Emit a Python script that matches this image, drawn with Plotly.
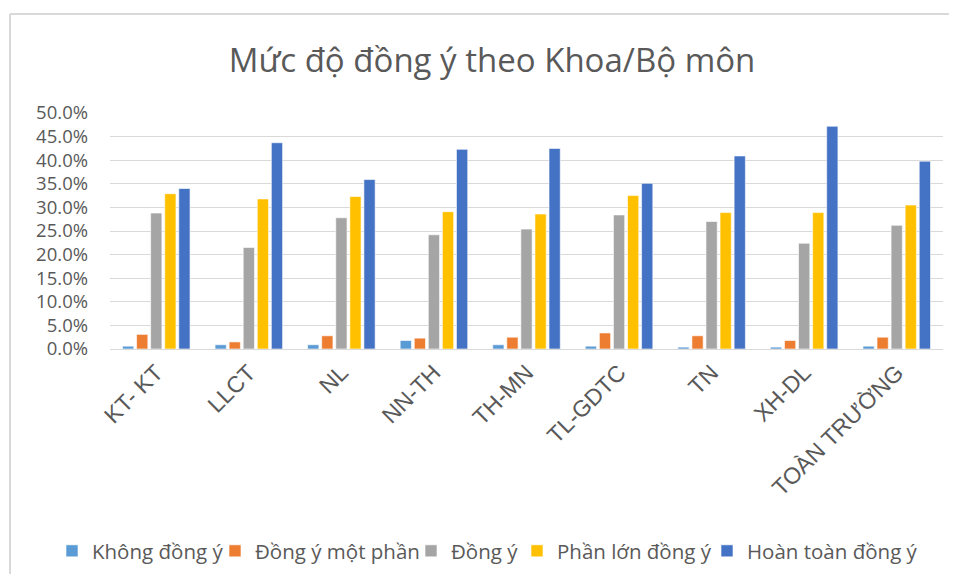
import plotly.graph_objects as go

categories = ["KT- KT", "LLCT", "NL", "NN-TH", "TH-MN", "TL-GDTC", "TN", "XH-DL", "TOÀN TRƯỜNG"]
khong_dong_y = [0.006, 0.009, 0.009, 0.018, 0.009, 0.006, 0.004, 0.004, 0.006]
dong_y_mot_phan = [0.031, 0.015, 0.028, 0.023, 0.025, 0.034, 0.028, 0.018, 0.025]
dong_y = [0.288, 0.215, 0.278, 0.242, 0.254, 0.284, 0.270, 0.224, 0.262]
phan_lon_dong_y = [0.329, 0.318, 0.323, 0.291, 0.286, 0.325, 0.289, 0.289, 0.305]
hoan_toan_dong_y = [0.340, 0.437, 0.359, 0.423, 0.425, 0.351, 0.409, 0.472, 0.398]

series = [
    ("Không đồng ý", khong_dong_y, "#5B9BD5"),
    ("Đồng ý một phần", dong_y_mot_phan, "#ED7D31"),
    ("Đồng ý", dong_y, "#A5A5A5"),
    ("Phần lớn đồng ý", phan_lon_dong_y, "#FFC000"),
    ("Hoàn toàn đồng ý", hoan_toan_dong_y, "#4472C4"),
]
yticks = [0.0, 0.05, 0.10, 0.15, 0.20, 0.25, 0.30, 0.35, 0.40, 0.45, 0.50]

# page has an 8px body margin: figure is placed at (8, 8)
OFF = 8
W, H = 941, 566
PL, PR, PT, PB = 110, 943, 113, 349
L, T = PL - OFF, PT - OFF
R = W - (PR - OFF)
B = H - (PB - OFF)
pw, ph = W - L - R, H - T - B

def px_x(x):
    return (x - OFF - L) / pw

def px_y(y):
    return (H - B - (y - OFF)) / ph

legend_text_starts = [93, 256, 452, 558, 748]
legend_names = ["legend", "legend2", "legend3", "legend4", "legend5"]

fig = go.Figure()
for (name, vals, color), lg in zip(series, legend_names):
    fig.add_trace(go.Bar(
        x=categories, y=vals, name=name, legend=lg, showlegend=True,
        marker=dict(color=color, line=dict(color="rgba(255,255,255,0.6)", width=1)),
    ))

legend_fmt = {}
for lg, xs in zip(legend_names, legend_text_starts):
    legend_fmt[lg] = dict(
        orientation="h", x=px_x(xs - 41), xanchor="left", y=px_y(551), yanchor="middle",
        font=dict(size=20.5, color="#595959", family="Open Sans, Arial, sans-serif"),
        bgcolor="rgba(0,0,0,0)", borderwidth=0, visible=True,
    )

fig.update_layout(
    width=W, height=H,
    showlegend=True,
    margin=dict(l=L, r=R, t=T, b=B, autoexpand=False),
    paper_bgcolor="white", plot_bgcolor="white",
    barmode="group", bargap=0.24, bargroupgap=0.2,
    font=dict(family="Open Sans, Arial, sans-serif", color="#595959"),
    title=dict(text="Mức độ đồng ý theo Khoa/Bộ môn", x=(492 - OFF) / W, xanchor="center",
               y=1 - (60 - OFF) / H, yanchor="middle",
               font=dict(size=33, color="#595959", family="Open Sans, Arial, sans-serif")),
    xaxis=dict(tickangle=-45, tickfont=dict(size=23, color="#595959", family="Liberation Sans, Arial, sans-serif"),
               showline=True, linecolor="#D9D9D9", linewidth=1, ticks="", showgrid=False),
    yaxis=dict(range=[0, 0.5], tickvals=yticks, tickformat=".1%", ticklabelstandoff=21,
               tickfont=dict(size=18.5, color="#595959", family="Open Sans, Arial, sans-serif"),
               showgrid=True, gridcolor="#D9D9D9", gridwidth=1, zeroline=False, ticks=""),
    shapes=[
        dict(type="line", xref="paper", yref="paper", x0=px_x(10), x1=px_x(10), y0=px_y(14), y1=px_y(OFF + H),
             line=dict(color="#D9D9D9", width=2)),
        dict(type="line", xref="paper", yref="paper", x0=px_x(10), x1=px_x(OFF + W), y0=px_y(14), y1=px_y(14),
             line=dict(color="#D9D9D9", width=2)),
    ],
    **legend_fmt,
)

fig.write_html("out.html")
